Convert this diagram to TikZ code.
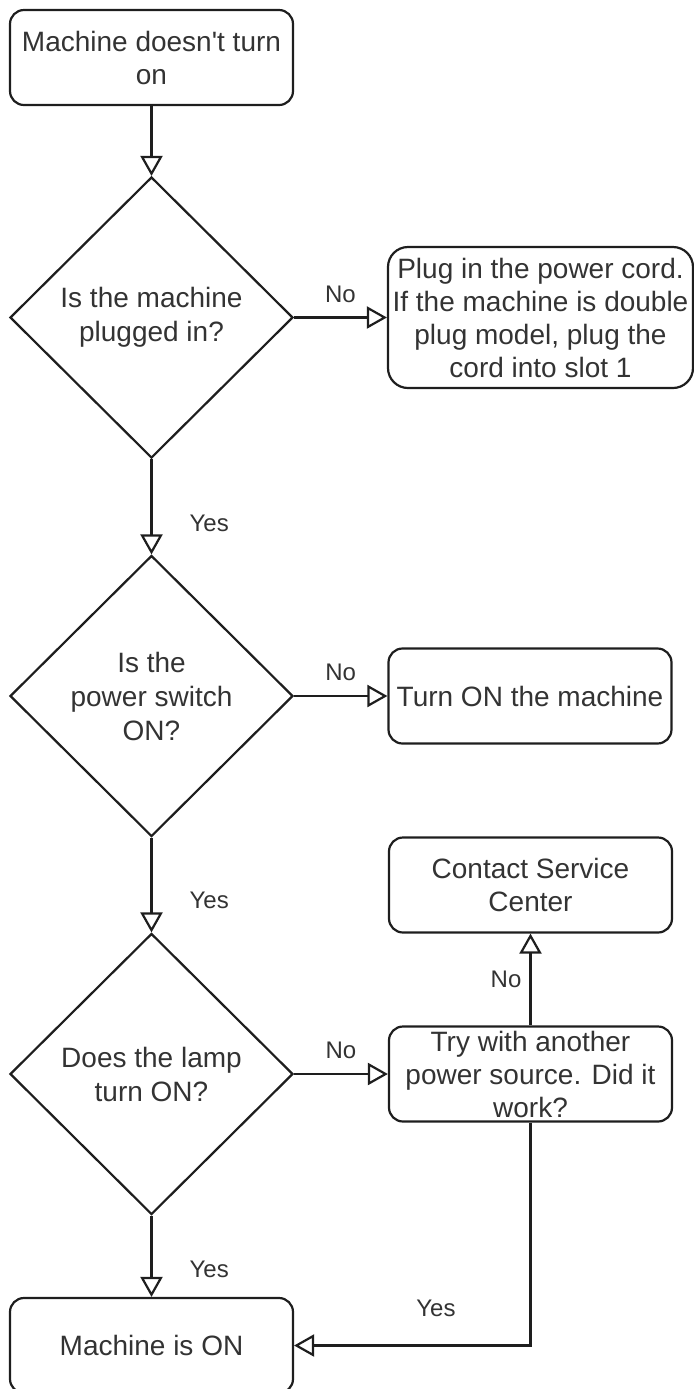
\documentclass[tikz,border=0pt]{standalone}
\usepackage{fontspec}
\setmainfont{Liberation Sans}[Ligatures=TeXOff]
\usetikzlibrary{shapes.geometric,arrows.meta}
\definecolor{txt}{RGB}{51,51,51}
\definecolor{ln}{RGB}{30,30,30}
\begin{document}
\begin{tikzpicture}[x=0.5pt,y=-0.5pt,
  box/.style={draw=ln, line width=1.1pt, rounded corners=7pt, minimum width=141.5pt, minimum height=47.5pt, inner sep=0pt, align=center, font=\fontsize{14}{16.5}\selectfont, text=txt},
  dec/.style={draw=ln, line width=1.1pt, diamond, aspect=1, minimum width=141.5pt, minimum height=140.5pt, inner sep=0pt, align=center, font=\fontsize{14}{17}\selectfont, text=txt},
  conn/.style={draw=ln, line width=1.1pt, -{Triangle[open,length=10pt,width=11pt]}},
  lbl/.style={font=\fontsize{12}{14}\selectfont, text=txt, inner sep=0pt}
]
\useasboundingbox (0,0) rectangle (694,1389);
\node[box] (start) at (151.5,57.5) {Machine doesn't turn\\on};
\node[dec] (d1) at (151.5,317.5) {Is the machine\\plugged in?};
\node[box, rounded corners=10pt, minimum width=152.5pt, minimum height=70.5pt] (plug) at (540.5,317.5) {Plug in the power cord.\\If the machine is double\\plug model, plug the\\cord into slot 1};
\node[dec] (d2) at (151.5,696) {Is the\\power switch\\ON?};
\node[box] (turnon) at (530,696) {Turn ON the machine};
\node[dec] (d3) at (151.5,1074) {Does the lamp\\turn ON?};
\node[box] (service) at (530.5,885) {Contact Service\\Center};
\node[box] (other) at (530.5,1074) {Try with another\\power source. Did it\\work?};
\node[box] (on) at (151.5,1345.5) {Machine is ON};

\draw[conn] (start.south) -- (d1.north);
\draw[conn] (d1.east) -- node[lbl, pos=0.5, above=7pt]{No} (plug.west);
\draw[conn] (d1.south) -- node[lbl, pos=0.67, right=18.5pt]{Yes} (d2.north);
\draw[conn] (d2.east) -- node[lbl, pos=0.5, above=7pt]{No} (turnon.west);
\draw[conn] (d2.south) -- node[lbl, pos=0.66, right=18.5pt]{Yes} (d3.north);
\draw[conn] (d3.east) -- node[lbl, pos=0.5, above=7pt]{No} (other.west);
\draw[conn] (other.north) -- node[lbl, pos=0.5, left=4pt]{No} (service.south);
\draw[conn] (d3.south) -- node[lbl, pos=0.66, right=18.5pt]{Yes} (on.north);
\draw[conn] (other.south) |- node[lbl, pos=0.7, above=13.7pt]{Yes} (on.east);
\end{tikzpicture}
\end{document}
